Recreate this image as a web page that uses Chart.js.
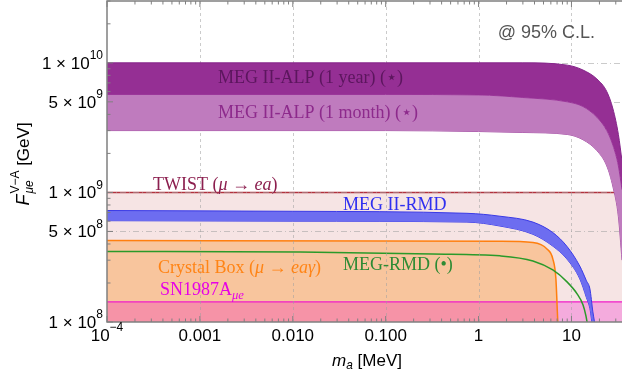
<!DOCTYPE html>
<html>
<head>
<meta charset="utf-8">
<script src="https://cdn.jsdelivr.net/npm/chart.js@4.4.1/dist/chart.umd.min.js"></script>
<style>
html, body { margin: 0; padding: 0; background: #fff; }
#wrap { width: 622px; height: 377px; }
</style>
</head>
<body>
<div id="wrap"><canvas id="limits" width="622" height="377"></canvas></div>
<script>
// Ограничения на F_{μe}^{V-A} в зависимости от массы m_a (x: МэВ, y: ГэВ)

const xMin = 1e-4, xMax = 35;
const yMin = 1e8, yMax = 3e10;

// MEG II-ALP (1 year) / (1 month)
const alpX          = [1e-4, 0.1, 1, 3, 9, 13.3, 18.8, 24, 28, 32, 35];
const alpYearUpper  = [1.0e10, 1.0e10, 1.0e10, 1.0e10, 9.6e9, 8.8e9, 7.5e9, 6.0e9, 4.4e9, 2.8e9, 1.75e9];
const alpYearLower  = [5.7e9, 5.7e9, 5.65e9, 5.4e9, 5.0e9, 4.6e9, 3.8e9, 3.0e9, 2.3e9, 1.6e9, 1.05e9];
const alpMonthLower = [3.0e9, 3.0e9, 2.95e9, 2.9e9, 2.8e9, 2.55e9, 2.1e9, 1.6e9, 1.1e9, 6.5e8, 3.0e8];

// TWIST (μ → ea)
const twistX = [1e-4, 35];
const twistY = [1e9, 1e9];

// MEG II-RMD
const rmd2X     = [1e-4, 0.01, 0.75, 1.7, 3.85, 6.3, 8.9, 12.3, 14.5, 15.8, 17.0, 18.2];
const rmd2Upper = [7.25e8, 7.15e8, 6.9e8, 6.55e8, 5.9e8, 4.9e8, 3.85e8, 2.7e8, 2.08e8, 1.8e8, 1.2e8, 0.9e8];
const rmd2Lower = [6.05e8, 6.0e8, 5.9e8, 5.5e8, 4.75e8, 3.85e8, 3.07e8, 2.15e8, 1.54e8, 1.27e8, 0.9e8, 0.85e8];

// Crystal Box (μ → eaγ)
const cboxX = [1e-4, 0.1, 1.7, 3.85, 5.45, 6.3, 6.8, 7.05, 7.2];
const cboxY = [4.25e8, 4.22e8, 4.2e8, 4.1e8, 3.66e8, 3.07e8, 2.15e8, 1.2e8, 0.85e8];

// MEG-RMD
const rmdX = [1e-4, 0.012, 0.32, 1.7, 3.85, 6.3, 8.9, 11.5, 13.3, 14.3, 14.9];
const rmdY = [3.5e8, 3.47e8, 3.35e8, 3.24e8, 2.96e8, 2.52e8, 2.05e8, 1.65e8, 1.36e8, 1.12e8, 0.95e8];

// SN1987A
const snX = [1e-4, 35];
const snY = [1.43e8, 1.43e8];

// подписи осей
const xTickValues = [1e-4, 1e-3, 1e-2, 1e-1, 1, 10];
const xTickLabels = ['10', '0.001', '0.010', '0.100', '1', '10'];
const xTickSups   = ['−4', '', '', '', '', ''];
const yTickValues = [1e8, 5e8, 1e9, 5e9, 1e10];
const yTickMant   = ['1', '5', '1', '5', '1'];
const yTickExp    = ['8', '8', '9', '9', '10'];

const SANS = '"Liberation Sans", Arial, sans-serif';
const SERIF = '"Liberation Serif", "DejaVu Serif", serif';

// подписи кривых: [x, y, цвет, части текста]
const notes = [
    [1.57e-3, 7.54e9, '#5c165e', [['MEG II-ALP (1 year) (', ''], ['⋆', ''], [')', '']]],
    [1.57e-3, 4.06e9, '#8d2a8c', [['MEG II-ALP (1 month) (', ''], ['⋆', ''], [')', '']]],
    [3.13e-4, 1.14e9, '#8c1f4f', [['TWIST (', ''], ['μ', 'i'], [' → ', ''], ['ea', 'i'], [')', '']]],
    [0.0347, 7.9e8, '#2f2ff0', [['MEG II-RMD', '']]],
    [3.54e-4, 2.6e8, '#ff8415', [['Crystal Box (', ''], ['μ', 'i'], [' → ', ''], ['eaγ', 'i'], [')', '']]],
    [3.72e-4, 1.76e8, '#e600e6', [['SN1987A', ''], ['μe', 'b']]],
    [0.0347, 2.74e8, '#2e8b34', [['MEG-RMD (', ''], ['•', ''], [')', '']]]
];

function pts(xs, ys) {
    return xs.map((x, i) => ({ x: x, y: ys[i] }));
}

function line(ctx, x1, y1, x2, y2) {
    ctx.beginPath();
    ctx.moveTo(x1, y1);
    ctx.lineTo(x2, y2);
    ctx.stroke();
}

// текст с курсивом и индексами
function drawRich(ctx, parts, x, y, size, family) {
    let cx = x;
    parts.forEach(([t, st]) => {
        let f = size, dy = 0, style = '';
        if (st === 'i') style = 'italic ';
        if (st === 'b') { style = 'italic '; f = size * 0.7; dy = size * 0.3; }
        if (st === 'p') { f = size * 0.7; dy = -size * 0.45; }
        ctx.font = style + f + 'px ' + family;
        ctx.fillText(t, cx, y + dy);
        cx += ctx.measureText(t).width;
    });
    return cx - x;
}

function drawGrid(chart) {
    const { ctx, chartArea: a } = chart;
    const sx = chart.scales.x, sy = chart.scales.y;
    ctx.save();
    ctx.beginPath();
    ctx.rect(a.left, a.top, a.right - a.left, a.bottom - a.top);
    ctx.clip();
    ctx.strokeStyle = 'rgba(160,160,160,0.55)';
    ctx.lineWidth = 1;
    ctx.setLineDash([3, 3]);
    xTickValues.slice(1).forEach(v => {
        const x = Math.round(sx.getPixelForValue(v)) + 0.5;
        line(ctx, x, a.top, x, a.bottom);
    });
    ctx.setLineDash([6, 3, 1, 3]);
    yTickValues.slice(1).forEach(v => {
        const y = Math.round(sy.getPixelForValue(v)) + 0.5;
        line(ctx, a.left, y, a.right, y);
    });
    ctx.restore();
}

const decor = {
    id: 'decor',
    beforeDatasetDraw(chart, args) {
        // сетка поверх розовых/оранжевых заливок, но под синей и фиолетовыми полосами
        if (args.index === 5) drawGrid(chart);
    },
    afterDraw(chart) {
        const { ctx, chartArea: a } = chart;
        const sx = chart.scales.x, sy = chart.scales.y;
        ctx.save();

        // рамка
        ctx.strokeStyle = '#808080';
        ctx.lineWidth = 1.5;
        ctx.beginPath();
        ctx.moveTo(a.right + 2, a.top);
        ctx.lineTo(a.left, a.top);
        ctx.lineTo(a.left, a.bottom);
        ctx.lineTo(a.right + 2, a.bottom);
        ctx.stroke();

        // засечки
        ctx.lineWidth = 1;
        for (let e = -4; e <= 1; e++) {
            for (let k = 1; k <= 9; k++) {
                const v = k * Math.pow(10, e);
                if (v > xMax) continue;
                const x = sx.getPixelForValue(v);
                const len = k === 1 ? 6 : 3.5;
                line(ctx, x, a.bottom, x, a.bottom - len);
                line(ctx, x, a.top, x, a.top + len);
            }
        }
        for (let e = 8; e <= 10; e++) {
            for (let k = 1; k <= 9; k++) {
                const v = k * Math.pow(10, e);
                if (v > yMax) continue;
                const y = sy.getPixelForValue(v);
                const len = yTickValues.includes(v) ? 6 : 3.5;
                line(ctx, a.left, y, a.left + len, y);
            }
        }

        // подписи делений
        ctx.fillStyle = '#000';
        ctx.textBaseline = 'middle';
        yTickValues.forEach((v, i) => {
            const y = sy.getPixelForValue(v) + 1;
            ctx.font = '12px ' + SANS;
            const we = ctx.measureText(yTickExp[i]).width;
            ctx.font = '17px ' + SANS;
            const main = yTickMant[i] + ' × 10';
            const wm = ctx.measureText(main).width;
            const right = a.left - 4;
            ctx.fillText(main, right - we - wm, y);
            ctx.font = '12px ' + SANS;
            ctx.fillText(yTickExp[i], right - we, y - 8);
        });
        xTickValues.forEach((v, i) => {
            const x = sx.getPixelForValue(v);
            const y = a.bottom + 14;
            ctx.font = '17px ' + SANS;
            const wm = ctx.measureText(xTickLabels[i]).width;
            ctx.font = '12px ' + SANS;
            const ws = xTickSups[i] ? ctx.measureText(xTickSups[i]).width : 0;
            const x0 = x - (wm + ws) / 2;
            ctx.font = '17px ' + SANS;
            ctx.fillText(xTickLabels[i], x0, y);
            if (ws) {
                ctx.font = '12px ' + SANS;
                ctx.fillText(xTickSups[i], x0 + wm, y - 8);
            }
        });

        // подпись оси x
        const xt = [['m', 'i'], ['a', 'b'], [' [MeV]', '']];
        ctx.textBaseline = 'middle';
        const wx = drawRich(ctx, xt, -1000, -1000, 17, SANS);
        drawRich(ctx, xt, 367 - wx / 2, 361, 17, SANS);

        // подпись оси y (повёрнутая)
        ctx.save();
        ctx.translate(24, 164);
        ctx.rotate(-Math.PI / 2);
        ctx.font = 'italic 18px ' + SANS;
        const wF = ctx.measureText('F').width;
        ctx.font = '12px ' + SANS;
        const wSup = ctx.measureText('V−A').width;
        ctx.font = '17px ' + SANS;
        const wG = ctx.measureText(' [GeV]').width;
        const total = wF + wSup + 1 + wG;
        let cx = -total / 2;
        ctx.font = 'italic 18px ' + SANS;
        ctx.fillText('F', cx, 0);
        cx += wF + 1;
        ctx.font = '12px ' + SANS;
        ctx.fillText('V−A', cx, -8);
        ctx.font = 'italic 12px ' + SANS;
        ctx.fillText('μe', cx, 6);
        cx += wSup;
        ctx.font = '17px ' + SANS;
        ctx.fillText(' [GeV]', cx, 0);
        ctx.restore();

        // уровень достоверности
        ctx.fillStyle = '#555';
        ctx.font = '18px ' + SANS;
        ctx.textAlign = 'right';
        ctx.fillText('@ 95% C.L.', 595, 33);
        ctx.textAlign = 'left';

        // подписи кривых
        notes.forEach(([x, y, color, parts]) => {
            ctx.fillStyle = color;
            drawRich(ctx, parts, sx.getPixelForValue(x), sy.getPixelForValue(y), 18, SERIF);
        });

        ctx.restore();
    }
};

const lineBase = {
    pointRadius: 0,
    cubicInterpolationMode: 'monotone',
    fill: false
};

const datasets = [
    // 0 TWIST
    { ...lineBase, data: pts(twistX, twistY), borderColor: '#b3323e', borderWidth: 1.5,
      backgroundColor: '#f6e4e4', fill: 'start', order: 20 },
    // 1 Crystal Box заливка
    { ...lineBase, data: pts(cboxX, cboxY), borderWidth: 0, borderColor: 'rgba(0,0,0,0)',
      backgroundColor: '#f8c59d', fill: 'start', order: 19 },
    // 2 SN1987A
    { ...lineBase, data: pts(snX, snY), borderColor: '#f01ec8', borderWidth: 1.3,
      backgroundColor: 'rgba(240,0,200,0.25)', fill: 'start', order: 18 },
    // 3 Crystal Box линия
    { ...lineBase, data: pts(cboxX, cboxY), borderColor: '#ff7f0e', borderWidth: 1.5, order: 17 },
    // 4 MEG-RMD
    { ...lineBase, data: pts(rmdX, rmdY), borderColor: '#2a9a2a', borderWidth: 1.5, order: 16 },
    // 5 MEG II-RMD нижняя граница
    { ...lineBase, data: pts(rmd2X, rmd2Lower), borderColor: '#3a3ae6', borderWidth: 1, order: 15 },
    // 6 MEG II-RMD верхняя граница
    { ...lineBase, data: pts(rmd2X, rmd2Upper), borderColor: '#3a3ae6', borderWidth: 1,
      backgroundColor: '#6d6df0', fill: { target: 5 }, order: 14 },
    // 7 MEG II-ALP (1 month) нижняя
    { ...lineBase, data: pts(alpX, alpMonthLower), borderColor: '#a552a5', borderWidth: 1, order: 13 },
    // 8 граница между полосами
    { ...lineBase, data: pts(alpX, alpYearLower), borderColor: '#a03c9f', borderWidth: 1,
      backgroundColor: '#bf7bbe', fill: { target: 7 }, order: 12 },
    // 9 MEG II-ALP (1 year) верхняя
    { ...lineBase, data: pts(alpX, alpYearUpper), borderColor: '#85248a', borderWidth: 1,
      backgroundColor: '#952f94', fill: { target: 8 }, order: 11 }
];

new Chart(document.getElementById('limits'), {
    type: 'line',
    data: { datasets: datasets },
    options: {
        responsive: false,
        animation: false,
        devicePixelRatio: 1,
        layout: { padding: { top: 1, left: 0, right: 0, bottom: 0 } },
        plugins: { legend: { display: false }, tooltip: { enabled: false } },
        scales: {
            x: {
                type: 'logarithmic', min: xMin, max: xMax,
                ticks: { display: false }, grid: { display: false }, border: { display: false },
                afterFit: s => { s.height = 55; }
            },
            y: {
                type: 'logarithmic', min: yMin, max: yMax,
                ticks: { display: false }, grid: { display: false }, border: { display: false },
                afterFit: s => { s.width = 107; }
            }
        }
    },
    plugins: [decor]
});
</script>
</body>
</html>
